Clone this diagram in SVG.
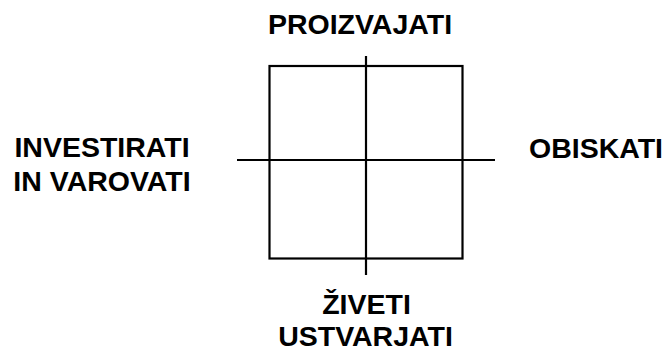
<svg xmlns="http://www.w3.org/2000/svg" width="667" height="346" viewBox="0 0 667 346">
<style>
.l{fill:none;stroke:#000;stroke-width:2.2}
text{font-family:"Liberation Sans",Arial,sans-serif;font-weight:bold;font-size:28.5px;fill:#000;text-anchor:middle}
</style>
<rect width="667" height="346" fill="#fff"/>
<g id="square"><rect class="l" x="269.5" y="66" width="193" height="192.5"/></g>
<g id="connectors">
<line class="l" x1="366" y1="56" x2="366" y2="275"/>
<line class="l" x1="237" y1="160" x2="495" y2="160"/>
</g>
<g id="top"><text x="360" y="34">PROIZVAJATI</text></g>
<g id="left"><text x="102" y="157">INVESTIRATI</text><text x="102" y="191">IN VAROVATI</text></g>
<g id="right"><text x="596" y="158">OBISKATI</text></g>
<g id="bottom"><text x="366.5" y="314">ŽIVETI</text><text x="365.5" y="345.5">USTVARJATI</text></g>
</svg>
